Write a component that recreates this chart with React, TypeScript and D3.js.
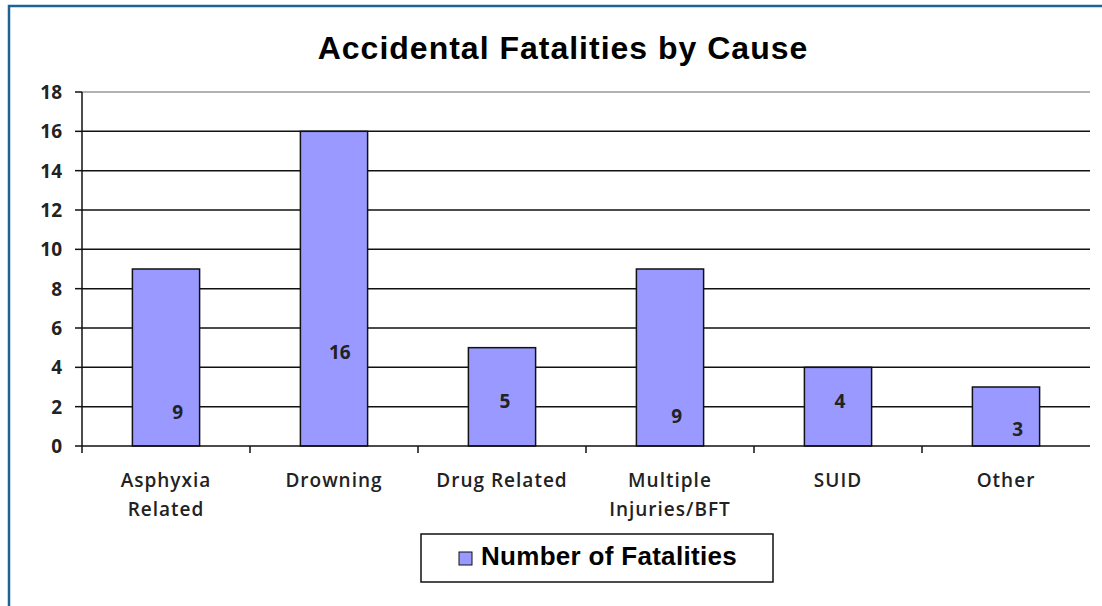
import React from "react";
import * as d3 from "d3";

const categories = [
  ["Asphyxia", "Related"],
  ["Drowning"],
  ["Drug Related"],
  ["Multiple", "Injuries/BFT"],
  ["SUID"],
  ["Other"],
];
const values = [9, 16, 5, 9, 4, 3];
const yTicks = [0, 2, 4, 6, 8, 10, 12, 14, 16, 18];
const seriesName = "Number of Fatalities";
const title = "Accidental Fatalities by Cause";
// label anchors: [horizontal offset in band fraction, vertical position in data units]
const labelAnchors = [
  [0.07, 1.73],
  [0.035, 4.78],
  [0.018, 2.29],
  [0.04, 1.53],
  [0.012, 2.29],
  [0.07, 0.86],
];

export default function App() {
  const W = 1102, H = 606;
  const left = 82, right = 1090, top = 92, bottom = 446;
  const x = d3.scaleBand<number>().domain(d3.range(values.length)).range([left, right]).paddingInner(0).paddingOuter(0);
  const y = d3.scaleLinear().domain([0, 18]).range([bottom, top]);
  const bw = x.bandwidth();
  const barW = bw * 0.4;
  const font = "'Liberation Sans', Arial, sans-serif";
  const catFont = "'Open Sans', 'DejaVu Sans', sans-serif";
  return (
    <svg width={W} height={H} style={{ position: "absolute", left: 0, top: 0, background: "#fff" }}>
      <rect x={9} y={6} width={W} height={H} fill="#fff" stroke="#1f6391" strokeWidth={2.5} />
      <text x={563} y={59} textAnchor="middle" fontFamily={font} fontWeight="bold" fontSize={32} letterSpacing={1} fill="#000">{title}</text>
      {yTicks.map((t) => (
        <g key={t}>
          {t > 0 && (
            <line x1={left} x2={right} y1={y(t)} y2={y(t)} stroke={t === 18 ? "#999" : "#111"} strokeWidth={1.5} />
          )}
          <line x1={left - 7} x2={left} y1={y(t)} y2={y(t)} stroke="#111" strokeWidth={1.5} />
          <text x={62} y={y(t)} dy="0.36em" textAnchor="end" fontFamily={catFont} fontWeight="bold" fontSize={19} fill="#222">{t}</text>
        </g>
      ))}
      {values.map((v, i) => (
        <rect key={i} x={x(i)! + (bw - barW) / 2} y={y(v)} width={barW} height={bottom - y(v)} fill="#9999ff" stroke="#111" strokeWidth={1.5} />
      ))}
      <line x1={left} x2={left} y1={top} y2={bottom + 7} stroke="#111" strokeWidth={1.5} />
      <line x1={left} x2={right} y1={bottom} y2={bottom} stroke="#111" strokeWidth={1.5} />
      {d3.range(1, values.length).map((i) => (
        <line key={i} x1={x(i)!} x2={x(i)!} y1={bottom} y2={bottom + 7} stroke="#111" strokeWidth={1.5} />
      ))}
      {values.map((v, i) => (
        <text key={i} x={x(i)! + bw / 2 + labelAnchors[i][0] * bw} y={y(labelAnchors[i][1])} dy="0.36em" textAnchor="middle" fontFamily={catFont} fontWeight="bold" fontSize={19} fill="#222">{v}</text>
      ))}
      {categories.map((lines, i) => (
        <text key={i} x={x(i)! + bw / 2} y={487} textAnchor="middle" fontFamily={catFont} fontWeight="600" fontSize={19} letterSpacing={1} fill="#222">
          {lines.map((l, j) => (
            <tspan key={j} x={x(i)! + bw / 2} dy={j === 0 ? 0 : 29}>{l}</tspan>
          ))}
        </text>
      ))}
      <rect x={421} y={534} width={352} height={48} fill="#fff" stroke="#111" strokeWidth={1.5} />
      <rect x={459} y={552} width={13} height={13} fill="#9999ff" stroke="#111" strokeWidth={1} />
      <text x={481} y={565} fontFamily={font} fontWeight="bold" fontSize={26} fill="#000" letterSpacing={0.3}>{seriesName}</text>
    </svg>
  );
}
